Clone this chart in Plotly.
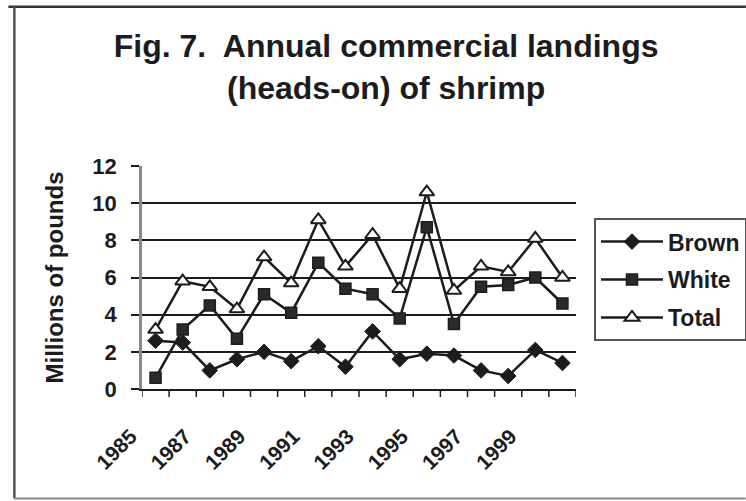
import plotly.graph_objects as go

# Annual commercial landings (heads-on) of shrimp, millions of pounds
years = list(range(1985, 2001))
brown = [2.6, 2.5, 1.0, 1.6, 2.0, 1.5, 2.3, 1.2, 3.1, 1.6, 1.9, 1.8, 1.0, 0.7, 2.1, 1.4]
white = [0.6, 3.2, 4.5, 2.7, 5.1, 4.1, 6.8, 5.4, 5.1, 3.8, 8.7, 3.5, 5.5, 5.6, 6.0, 4.6]
total = [3.2, 5.8, 5.5, 4.3, 7.1, 5.7, 9.1, 6.6, 8.3, 5.4, 10.6, 5.3, 6.6, 6.3, 8.1, 6.0]
year_labels = [str(y) for y in years if y % 2 == 1]
year_label_vals = [y for y in years if y % 2 == 1]
# category boundaries, where the x-axis tick marks sit
year_edges = [y - 0.5 for y in years] + [years[-1] + 0.5]

INK = "#1c1c1c"
FONT = "Liberation Sans, Arial, sans-serif"

W, H = 746, 501
L, R, T, B = 141.7, 170, 165.7, 111.7
pw, ph = W - L - R, H - T - B


def px_x(x):
    return (x - L) / pw


def px_y(y):
    return (H - B - y) / ph


fig = go.Figure()
fig.add_trace(go.Scatter(
    x=years, y=brown, name="Brown", mode="lines+markers", legendgroup="b",
    line=dict(color=INK, width=2.5),
    marker=dict(symbol="diamond", size=12, color=INK, line=dict(color=INK, width=1)),
))
fig.add_trace(go.Scatter(
    x=years, y=white, name="White", mode="lines+markers", legendgroup="w",
    line=dict(color=INK, width=2.5),
    marker=dict(symbol="square", size=11, color="#2a2a2a", line=dict(color=INK, width=1.5)),
))
fig.add_trace(go.Scatter(
    x=years, y=total, name="Total", mode="lines+markers", legendgroup="t",
    line=dict(color=INK, width=2.5),
    marker=dict(symbol="triangle-up", size=13, color="white", line=dict(color=INK, width=2)),
))

# outer frame of the figure panel
frame = dict(type="line", xref="paper", yref="paper", line=dict(color="#333", width=2.5))
shapes = [
    dict(frame, x0=px_x(8), x1=px_x(746), y0=px_y(6), y1=px_y(6)),
    dict(frame, x0=px_x(14), x1=px_x(14), y0=px_y(6), y1=px_y(499), line=dict(color="#555", width=2.5)),
    dict(frame, x0=px_x(14), x1=px_x(746), y0=px_y(499), y1=px_y(499), line=dict(color="#888", width=2)),
]
# short outside tick marks on the category boundaries of the x axis
tick_depth = 8 / ph
for e in year_edges:
    shapes.append(dict(type="line", xref="x", yref="paper", x0=e, x1=e,
                       y0=0, y1=-tick_depth, line=dict(color=INK, width=1.5)))

# trailing non-breaking spaces push the rotated labels down-left, away from the axis
pad = "\u00a0" * 6

fig.update_layout(
    width=W, height=H,
    margin=dict(l=L, r=R, t=T, b=B, pad=0, autoexpand=False),
    paper_bgcolor="white", plot_bgcolor="white",
    font=dict(family=FONT, color=INK),
    title=dict(
        text="<b>Fig. 7.  Annual commercial landings<br>(heads-on) of shrimp</b>",
        font=dict(size=32, family=FONT, color=INK),
        x=px_x(386), xref="paper", xanchor="center",
        y=1 - 57 / H, yref="container", yanchor="top",
    ),
    showlegend=True,
    legend=dict(
        x=px_x(594), y=px_y(218), xanchor="left", yanchor="top",
        font=dict(size=23, family=FONT, color=INK, weight="bold"),
        bordercolor="#555", borderwidth=2, bgcolor="white",
        tracegroupgap=5, itemwidth=62,
    ),
    shapes=shapes,
    xaxis=dict(
        range=[1984.5, 2000.5],
        tickmode="array", tickvals=year_label_vals,
        ticktext=[t + pad for t in year_labels],
        tickangle=-45, ticks="",
        tickfont=dict(size=21, family=FONT, color=INK, weight="bold"),
        showgrid=False, showline=True, linecolor=INK, linewidth=2,
        zeroline=False,
    ),
    yaxis=dict(
        range=[0, 12], dtick=2, tick0=0,
        ticks="outside", ticklen=8, tickwidth=1.5, tickcolor=INK,
        showgrid=True, gridcolor=INK, gridwidth=1.5,
        showline=True, linecolor="#8a8a8a", linewidth=2.5,
        zeroline=False,
        tickfont=dict(size=22, family=FONT, color=INK, weight="bold"),
        ticklabelstandoff=10,
        title=dict(text="Millions of pounds", standoff=22,
                   font=dict(size=24, family=FONT, color=INK, weight="bold")),
    ),
)

fig.write_html("out.html")
